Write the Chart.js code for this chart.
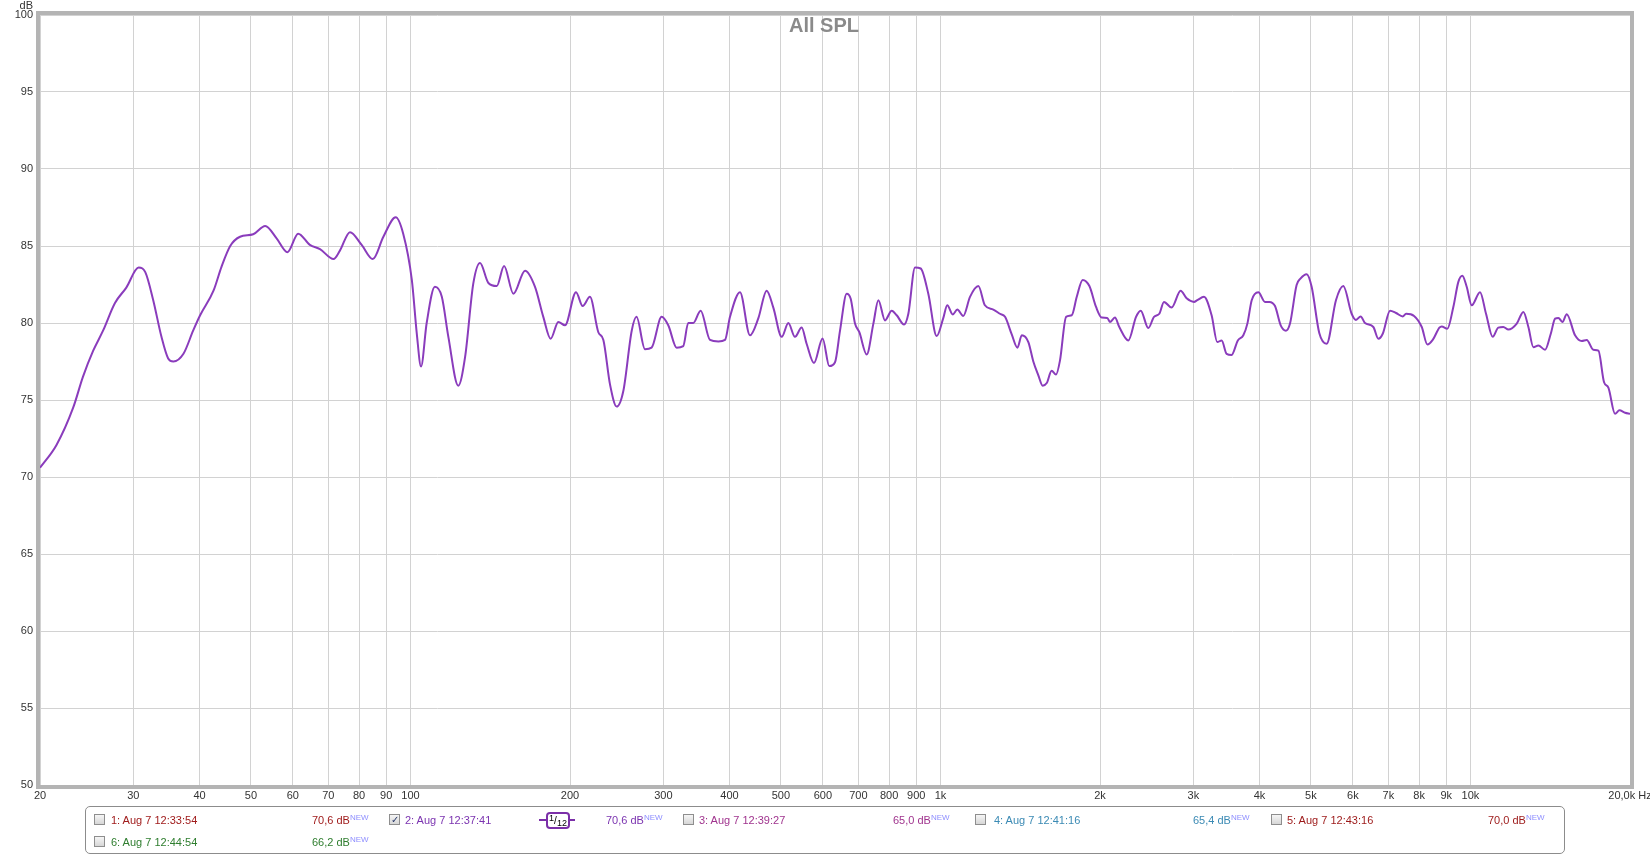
<!DOCTYPE html>
<html>
<head>
<meta charset="utf-8">
<script src="https://cdn.jsdelivr.net/npm/chart.js@4.4.1/dist/chart.umd.min.js"></script>
<style>
body { margin: 0; background: #fff; font-family: "Liberation Sans", Arial, sans-serif; }
#wrap { position: relative; width: 1650px; height: 856px; }
#grafico { position: absolute; left: 0; top: 0; }
#caixa { position: absolute; left: 85px; top: 806px; width: 1478px; height: 46px; border: 1px solid #8c8c8c; border-radius: 5px; }
.it { position: absolute; font-size: 11px; line-height: 14px; white-space: nowrap; }
.it sup { font-size: 8px; color: #8e8eff; vertical-align: 4px; line-height: 0; }
.cb { position: absolute; width: 9px; height: 9px; border: 1px solid #8e8e8e; background: linear-gradient(#f6f6f6, #d6d6d6); font-size: 10px; line-height: 9px; text-align: center; color: #2a3a6a; }
.smooth { position: absolute; left: 539px; top: 811px; width: 36px; height: 18px; }
.smooth .ln { position: absolute; top: 8px; height: 2px; width: 36px; background: #7b2fa8; }
.smooth .bx { position: absolute; left: 7px; top: 1px; width: 20px; height: 13px; border: 2px solid #7b2fa8; border-radius: 4px; background: #fff; font-size: 10px; line-height: 13px; text-align: center; color: #000; }
.smooth sup { font-size: 9px; vertical-align: 3px; line-height: 0; }
.smooth sub { font-size: 9px; vertical-align: -2px; line-height: 0; }
</style>
</head>
<body>
<div id="wrap">
<canvas id="grafico" width="1650" height="856"></canvas>

<div id="caixa"></div>

<span class="cb" style="left:94px;top:814px"></span>
<span class="it" style="left:111px;top:813px;color:#a01c1c">1: Aug 7 12:33:54</span>
<span class="it" style="left:312px;top:813px;color:#a01c1c">70,6 dB<sup>NEW</sup></span>

<span class="cb" style="left:389px;top:814px">✓</span>
<span class="it" style="left:405px;top:813px;color:#7b33b0">2: Aug 7 12:37:41</span>
<div class="smooth"><div class="ln"></div><div class="bx"><sup>1</sup>/<sub>12</sub></div></div>
<span class="it" style="left:606px;top:813px;color:#7b33b0">70,6 dB<sup>NEW</sup></span>

<span class="cb" style="left:683px;top:814px"></span>
<span class="it" style="left:699px;top:813px;color:#a0348e">3: Aug 7 12:39:27</span>
<span class="it" style="left:893px;top:813px;color:#a0348e">65,0 dB<sup>NEW</sup></span>

<span class="cb" style="left:975px;top:814px"></span>
<span class="it" style="left:994px;top:813px;color:#3b8ab4">4: Aug 7 12:41:16</span>
<span class="it" style="left:1193px;top:813px;color:#3b8ab4">65,4 dB<sup>NEW</sup></span>

<span class="cb" style="left:1271px;top:814px"></span>
<span class="it" style="left:1287px;top:813px;color:#9c1818">5: Aug 7 12:43:16</span>
<span class="it" style="left:1488px;top:813px;color:#9c1818">70,0 dB<sup>NEW</sup></span>

<span class="cb" style="left:94px;top:836px"></span>
<span class="it" style="left:111px;top:835px;color:#2e7d2e">6: Aug 7 12:44:54</span>
<span class="it" style="left:312px;top:835px;color:#2e7d2e">66,2 dB<sup>NEW</sup></span>
</div>

<script>
// frequency response (Hz / dB)
const freqs = [
    20, 21.5, 23.1, 24.1, 25.2, 26.3, 27.7, 29.1, 30.7, 31.6, 32.7, 33.9, 34.9, 35.7, 37.3, 38.9,
    40.1, 42.5, 44, 45.7, 47.7, 50.5, 53.2, 55.9, 58.6, 61.4, 64.6, 67.5, 71.6, 73.6, 76.9, 80.9,
    84.9, 88.9, 93.8, 96.9, 100.6, 102.8, 104.7, 107.3, 111.2, 114.6, 117.9, 123.1, 126.8, 131.4,
    135.3, 140.3, 145.5, 150.2, 156.4, 164.5, 171.8, 178.1, 183.9, 190.1, 195.7, 205.3, 211.3,
    218.1, 226.2, 231.2, 238, 245, 252.2, 261.5, 267, 277, 285.1, 297.8, 306.5, 317.9, 327.1,
    334.3, 341.6, 352.8, 367.4, 381.1, 392.2, 400.8, 418.6, 437.1, 453.2, 470, 483.8, 501.7,
    516.4, 531.5, 547.1, 559.1, 577.2, 599.3, 616.9, 632.5, 646.4, 665.4, 677.1, 689.9, 703,
    725.8, 747.2, 763.5, 786, 809.1, 827, 853.7, 869.8, 895.4, 917.7, 948.6, 983.8, 1012, 1030,
    1055, 1076, 1104, 1137, 1179, 1213, 1258, 1295, 1324, 1363, 1397, 1424, 1465, 1497, 1530,
    1559, 1587, 1621, 1652, 1681, 1726, 1769, 1808, 1855, 1910, 1966, 2015, 2064, 2088, 2134,
    2175, 2262, 2339, 2387, 2467, 2529, 2588, 2641, 2730, 2839, 2914, 3009, 3052, 3142, 3248,
    3329, 3393, 3467, 3543, 3640, 3728, 3794, 3866, 3979, 4096, 4174, 4278, 4385, 4487, 4566,
    4699, 4782, 4908, 5016, 5185, 5354, 5575, 5755, 5968, 6081, 6206, 6325, 6558, 6703, 6831,
    7052, 7238, 7451, 7560, 7827, 8093, 8293, 8488, 8738, 8826, 9044, 9283, 9488, 9654, 9838,
    10055, 10425, 10700, 11015, 11287, 11535, 11790, 12228, 12584, 12862, 13144, 13433, 13828,
    14176, 14443, 14654, 14910, 15194, 15753, 16217, 16573, 17057, 17435, 17869, 18206, 18742,
    19100, 19577, 20000
];

const spl = [
    70.6, 72.1, 74.5, 76.5, 78.2, 79.5, 81.3, 82.3, 83.6, 83.3, 81.5, 79.1, 77.7, 77.5, 78.0, 79.5,
    80.5, 82.1, 83.65, 85.0, 85.6, 85.76, 86.3, 85.5, 84.6, 85.8, 85.07, 84.8, 84.15, 84.7, 85.9, 85.07,
    84.15, 85.6, 86.87, 85.8, 82.8, 79.3, 77.17, 80.0, 82.35, 81.7, 79.1, 75.93, 77.8, 82.57,
    83.9, 82.6, 82.4, 83.7, 81.9, 83.4, 82.35, 80.4, 78.98, 80.07, 79.85, 82.0, 81.1,
    81.7, 79.4, 78.9, 76.0, 74.57, 75.6, 79.5, 80.4, 78.3, 78.4, 80.4, 79.85, 78.4, 78.5,
    80.0, 80.0, 80.8, 78.9, 78.8, 78.9, 80.4, 82.0, 79.2, 80.3, 82.1, 81.0, 79.1,
    80.0, 79.1, 79.7, 78.65, 77.4, 79.0, 77.2, 77.45, 79.5, 81.9, 81.57, 79.96, 79.4,
    77.96, 79.96, 81.48, 80.17, 80.8, 80.5, 79.9, 80.6, 83.6, 83.54, 81.9, 79.15, 80.3, 81.15,
    80.56, 80.87, 80.46, 81.7, 82.4, 81.15, 80.87, 80.6, 80.4, 79.26, 78.4, 79.2, 78.76, 77.5, 76.6,
    75.93, 76.1, 76.9, 76.65, 77.57, 80.4, 80.5, 81.7, 82.8, 82.4, 81.04, 80.35, 80.33, 80.07, 80.35,
    79.74, 78.87, 80.4, 80.8, 79.67, 80.4, 80.6, 81.37, 81.0, 82.09, 81.6, 81.37, 81.48, 81.7, 80.5,
    78.76, 78.87, 78.0, 77.93, 78.87, 79.2, 79.96, 81.48, 82.0, 81.37, 81.37, 81.1, 79.85, 79.5, 79.96,
    82.46, 82.9, 83.17, 82.35, 79.35, 78.65, 81.48, 82.4, 80.6, 80.2, 80.43, 80.0, 79.74, 78.98, 79.3,
    80.8, 80.65, 80.43, 80.6, 80.46, 79.74, 78.6, 78.9, 79.7, 79.78, 79.63, 81.04, 82.67, 83.07, 82.35,
    81.15, 82.0, 80.6, 79.1, 79.7, 79.74, 79.57, 79.96, 80.72, 79.74, 78.43, 78.54, 78.26,
    79.3, 80.28, 80.33, 80.07, 80.57, 79.2, 78.83, 78.9, 78.26, 78.2, 76.15, 75.8, 74.1,
    74.33, 74.17, 74.1
];

const xTicks = [20, 30, 40, 50, 60, 70, 80, 90, 100, 200, 300, 400, 500, 600, 700, 800, 900,
    1000, 2000, 3000, 4000, 5000, 6000, 7000, 8000, 9000, 10000, 20000];
const xLabels = ['20', '30', '40', '50', '60', '70', '80', '90', '100', '200', '300', '400', '500',
    '600', '700', '800', '900', '1k', '2k', '3k', '4k', '5k', '6k', '7k', '8k', '9k', '10k', '20,0k Hz'];
const yTicks = [50, 55, 60, 65, 70, 75, 80, 85, 90, 95, 100];

Chart.defaults.font.family = '"Liberation Sans", Arial, sans-serif';
Chart.defaults.font.size = 11;
Chart.defaults.color = '#333';

// frame, title and unit label of the plot
const frame = {
    id: 'frame',
    afterDraw(chart) {
        const { ctx, chartArea: a } = chart;
        ctx.save();
        ctx.strokeStyle = '#b4b4b4';
        ctx.lineWidth = 4;
        ctx.strokeRect(a.left - 2, a.top - 2, a.right - a.left + 4, a.bottom - a.top + 4);

        ctx.fillStyle = '#8a8a8a';
        ctx.font = 'bold 20px "Liberation Sans", Arial, sans-serif';
        ctx.textAlign = 'center';
        ctx.textBaseline = 'middle';
        ctx.fillText('All SPL', (a.left + a.right) / 2 - 11, a.top + 11);

        ctx.fillStyle = '#333';
        ctx.font = '11px "Liberation Sans", Arial, sans-serif';
        ctx.textAlign = 'right';
        ctx.fillText('dB', a.left - 7, 6);
        ctx.restore();
    }
};

const ctx = document.getElementById('grafico');

new Chart(ctx, {
    type: 'line',
    data: {
        datasets: [
            {
                label: '2: Aug 7 12:37:41',
                data: freqs.map((f, i) => ({ x: f, y: spl[i] })),
                borderColor: '#8a3cbc',
                borderWidth: 2,
                pointRadius: 0,
                cubicInterpolationMode: 'monotone'
            }
        ]
    },
    options: {
        responsive: false,
        animation: false,
        layout: { padding: { top: 15, right: 20, left: 0, bottom: 0 } },
        plugins: {
            legend: { display: false },
            tooltip: { enabled: false }
        },
        scales: {
            x: {
                type: 'logarithmic',
                min: 20,
                max: 20000,
                border: { display: false },
                grid: { color: '#d2d2d2', drawTicks: false },
                ticks: {
                    autoSkip: false,
                    maxRotation: 0,
                    padding: 4,
                    callback: (v) => {
                        const i = xTicks.indexOf(v);
                        return i >= 0 ? xLabels[i] : '';
                    }
                },
                afterBuildTicks: (scale) => {
                    scale.ticks = xTicks.map(v => ({ value: v }));
                },
                afterFit: (scale) => {
                    scale.height = 71;
                    scale.paddingLeft = 0;
                    scale.paddingRight = 0;
                }
            },
            y: {
                min: 50,
                max: 100,
                border: { display: false },
                grid: { color: '#d2d2d2', drawTicks: false },
                ticks: { padding: 7 },
                afterBuildTicks: (scale) => {
                    scale.ticks = yTicks.map(v => ({ value: v }));
                },
                afterFit: (scale) => {
                    scale.width = 40;
                    scale.paddingTop = 0;
                    scale.paddingBottom = 0;
                }
            }
        }
    },
    plugins: [frame]
});
</script>
</body>
</html>
